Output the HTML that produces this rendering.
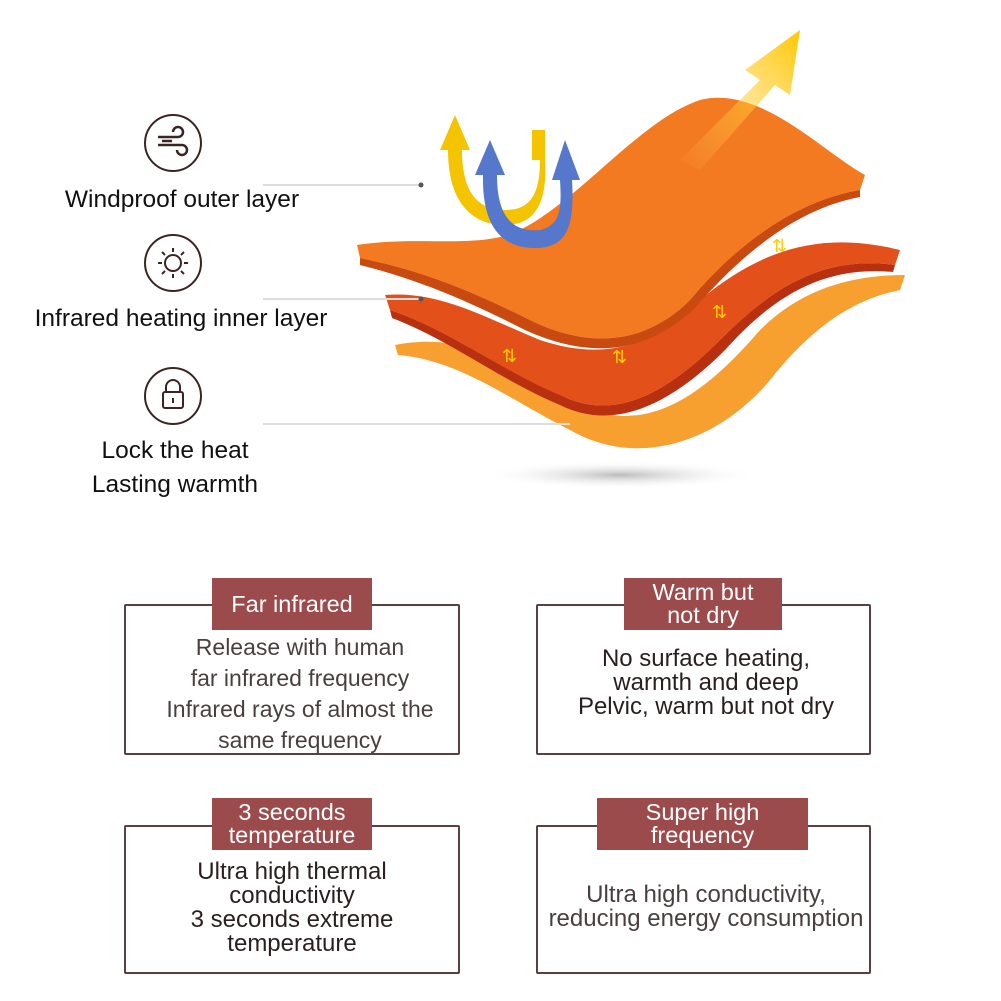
<!DOCTYPE html>
<html><head><meta charset="utf-8"><style>
body{margin:0;width:1001px;height:1001px;background:#fff;position:relative;overflow:hidden;font-family:"Liberation Sans",sans-serif}
.a{position:absolute}
.lbl{position:absolute;color:#111;font-size:24.5px;text-align:center;white-space:nowrap}
.box{position:absolute;border:2px solid #5a4040;border-radius:2px;box-sizing:border-box}
.tag{position:absolute;background:#9b4b4b;color:#fff;font-size:23.5px;text-align:center;line-height:23px;display:flex;align-items:center;justify-content:center}
.txt{position:absolute;text-align:center;color:#3d3333;white-space:nowrap}
</style></head><body>
<svg class="a" style="left:0;top:0" width="1001" height="1001">
<defs>
<radialGradient id="sh" cx="50%" cy="50%" r="50%"><stop offset="0" stop-color="#bbb"/><stop offset="1" stop-color="#fff" stop-opacity="0"/></radialGradient>
<linearGradient id="yl" x1="0" y1="1" x2="1" y2="0"><stop offset="0" stop-color="#ffd060" stop-opacity="0"/><stop offset="1" stop-color="#ffc800"/></linearGradient>
</defs>
<ellipse cx="620" cy="475" rx="140" ry="14" fill="url(#sh)"/>
<path d="M395 345 C470 330 520 370 570 400 C640 440 700 400 760 330 C800 290 850 275 905 275 L900 290 C850 300 810 330 770 380 C720 440 640 470 570 430 C510 400 460 360 398 355 Z" fill="#f7a030"/>
<path d="M385 295 C440 290 490 320 540 340 C600 360 650 350 700 300 C760 250 820 230 900 250 L895 265 C820 255 770 290 720 340 C660 400 610 420 560 395 C500 370 450 330 390 310 Z" fill="#e4501a"/>
<path d="M390 310 C450 330 500 370 560 395 C610 420 660 400 720 340 C770 290 820 255 895 265 L893 272 C820 265 770 300 725 350 C665 410 610 430 560 405 C500 380 450 340 392 318 Z" fill="#b83010"/>
<path d="M357 245 C420 235 480 250 520 230 C580 200 640 120 700 100 C760 85 820 150 865 175 L860 190 C800 200 740 240 690 300 C640 350 580 345 530 320 C470 290 420 270 360 258 Z" fill="#f47a22"/>
<path d="M360 258 C420 270 470 290 530 320 C580 345 640 350 690 300 C740 240 800 200 860 190 L860 197 C800 208 745 250 695 308 C640 360 580 355 525 330 C470 302 420 280 360 265 Z" fill="#c84a10"/>
<path d="M680 160 L760 80 L745 70 L800 30 L790 95 L775 85 L700 170 Z" fill="url(#yl)"/>
<path d="M440 150 L455 115 L470 150 L462 150 C462 195 480 210 505 210 C530 210 540 195 540 160 L532 160 L532 130 L545 130 L545 160 C548 210 530 225 505 225 C470 225 448 200 448 150 Z" fill="#f5c400"/>
<path d="M475 175 L490 140 L505 175 L497 175 C497 220 515 232 540 230 L540 248 C500 250 482 225 483 175 Z" fill="#5577cc"/>
<path d="M540 230 C560 225 562 210 560 180 L552 180 L565 140 L580 180 L572 180 C575 230 565 245 540 248 Z" fill="#5577cc"/>
<g fill="#ffcc00" font-size="18" font-family="DejaVu Sans">
<text x="502" y="362">⇅</text><text x="612" y="363">⇅</text><text x="712" y="318">⇅</text><text x="772" y="252">⇅</text>
</g>
<g stroke="#ddd" stroke-width="2"><line x1="263" y1="185" x2="420" y2="185"/><line x1="263" y1="299" x2="420" y2="299"/><line x1="263" y1="424" x2="570" y2="424"/></g>
<circle cx="421" cy="185" r="2.5" fill="#555"/><circle cx="421" cy="299" r="2.5" fill="#555"/>
<g fill="none" stroke="#3a2525" stroke-width="2">
<circle cx="173" cy="143" r="28"/><circle cx="173" cy="263" r="28"/><circle cx="173" cy="396" r="28"/>
<path d="M158 137h20a5 5 0 1 0-5-5M158 145h24a5 5 0 1 1-5 5M162 141h10" stroke-width="2.5"/>
<circle cx="173" cy="263" r="8"/>
<path d="M173 248v4M173 274v4M158 263h4M184 263h4M162 252l3 3M181 271l3 3M184 252l-3 3M162 274l3-3"/>
<rect x="163" y="392" width="20" height="16" rx="2"/><path d="M166 392v-5a7 7 0 0 1 14 0v5M173 398v5"/>
</g>
</svg>
<div class="lbl" style="left:32px;top:186px;width:300px">Windproof outer layer</div>
<div class="lbl" style="left:0px;top:305px;width:362px">Infrared heating inner layer</div>
<div class="lbl" style="left:60px;top:434px;width:230px;line-height:34px">Lock the heat<br>Lasting warmth</div>

<div class="box" style="left:124px;top:604px;width:336px;height:151px"></div>
<div class="tag" style="left:212px;top:578px;width:160px;height:52px">Far infrared</div>
<div class="txt" style="left:124px;top:632px;width:352px;font-size:23px;line-height:31px;color:#4a3f3f">Release with human<br>far infrared frequency<br>Infrared rays of almost the<br>same frequency</div>

<div class="box" style="left:536px;top:604px;width:335px;height:151px"></div>
<div class="tag" style="left:624px;top:578px;width:158px;height:52px">Warm but<br>not dry</div>
<div class="txt" style="left:536px;top:647px;width:340px;font-size:24px;line-height:24px;color:#2a1f1f">No surface heating,<br>warmth and deep<br>Pelvic, warm but not dry</div>

<div class="box" style="left:124px;top:825px;width:336px;height:149px"></div>
<div class="tag" style="left:212px;top:798px;width:160px;height:52px">3 seconds<br>temperature</div>
<div class="txt" style="left:124px;top:860px;width:336px;font-size:24px;line-height:24px;color:#2a1f1f">Ultra high thermal<br>conductivity<br>3 seconds extreme<br>temperature</div>

<div class="box" style="left:536px;top:825px;width:335px;height:149px"></div>
<div class="tag" style="left:597px;top:798px;width:211px;height:52px">Super high<br>frequency</div>
<div class="txt" style="left:536px;top:883px;width:340px;font-size:24px;line-height:24px;color:#4a3f3f">Ultra high conductivity,<br>reducing energy consumption</div>
</body></html>
